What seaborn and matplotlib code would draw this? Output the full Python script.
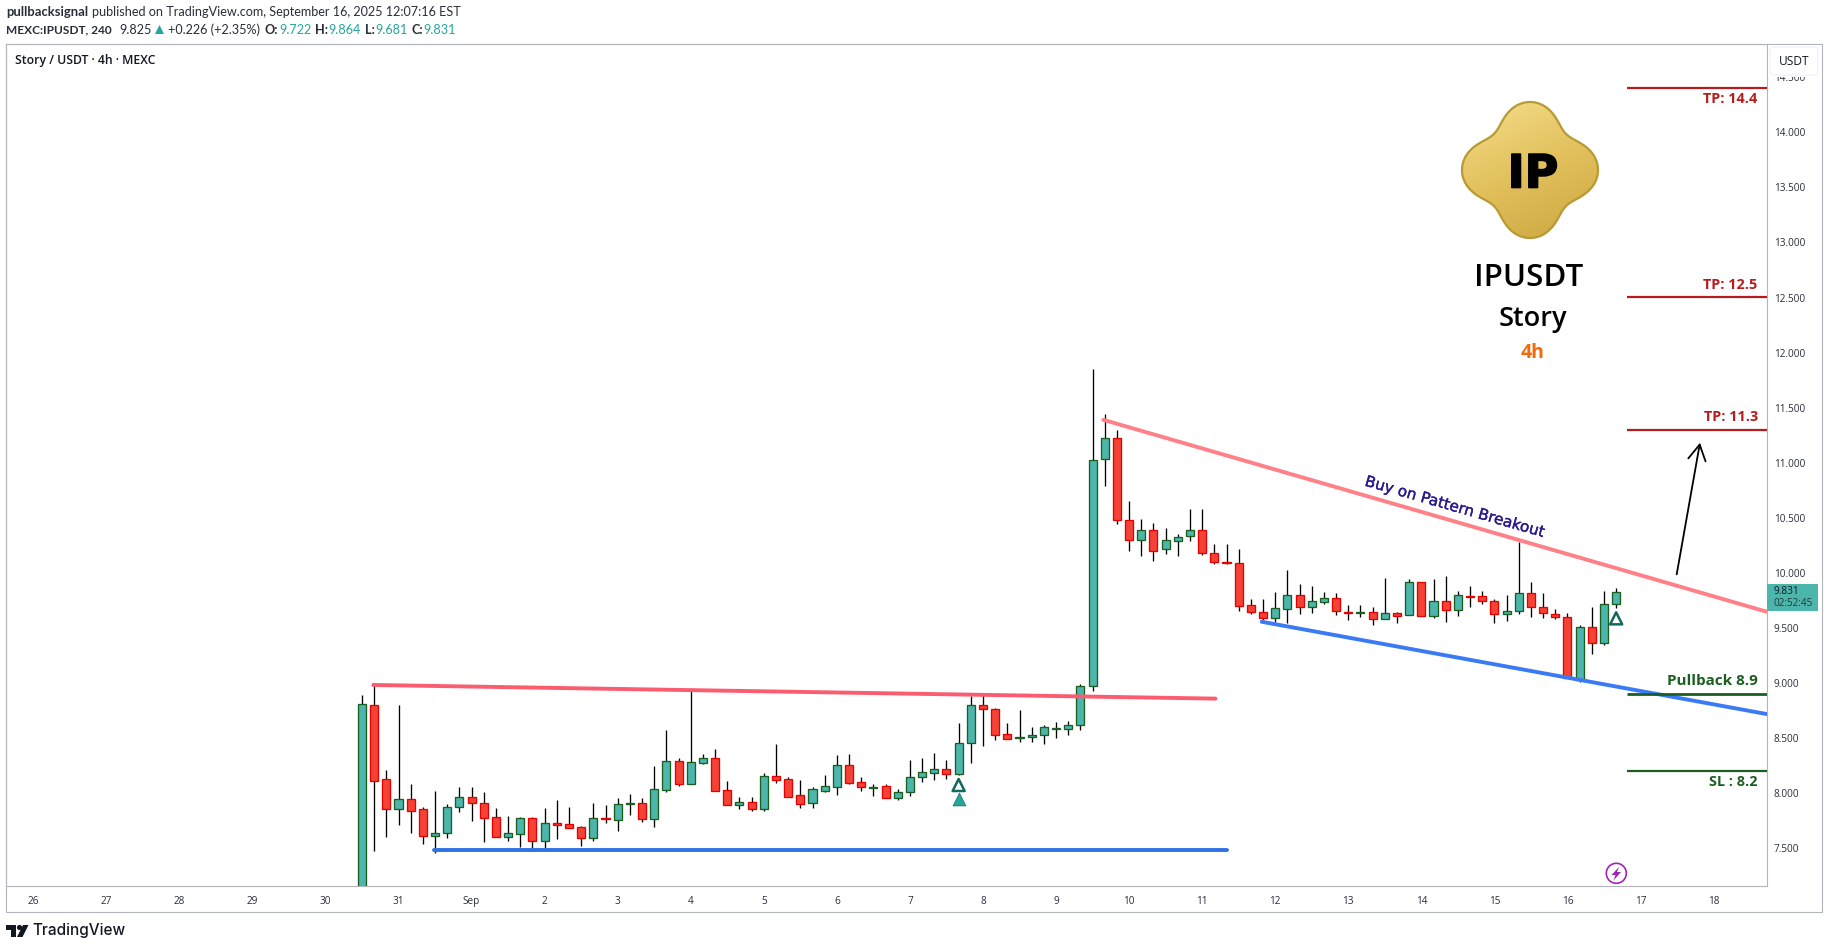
import numpy as np
import pandas as pd
import matplotlib
matplotlib.use('Agg')
import matplotlib.pyplot as plt
import matplotlib.patheffects as pe
import seaborn as sns
from matplotlib.colors import LinearSegmentedColormap
from matplotlib.patches import Rectangle, Circle, Polygon, PathPatch, FancyBboxPatch
from matplotlib.path import Path

# 4h candles, first one is Aug 30 12:00
opens = [6.90, 8.798, 8.126, 7.860, 7.945, 7.854, 7.615, 7.636, 7.872, 7.963, 7.909, 7.781, 7.606, 7.633, 7.772,
         7.570, 7.730, 7.718, 7.691, 7.597, 7.772, 7.760, 7.906, 7.909, 7.769, 8.033, 8.290, 8.087, 8.278, 8.317,
         8.027, 7.896, 7.917, 7.860, 8.154, 8.126, 7.981, 7.915, 8.024, 8.060, 8.253, 8.099, 8.048, 8.063, 7.954,
         8.009, 8.145, 8.187, 8.217, 8.178, 8.453, 8.798, 8.762, 8.535, 8.499, 8.508, 8.526, 8.587, 8.580, 8.617,
         8.971, 11.031, 11.222, 10.477, 10.302, 10.387, 10.214, 10.287, 10.332, 10.387, 10.178, 10.096, 10.087,
         9.706, 9.642, 9.588, 9.669, 9.797, 9.688, 9.733, 9.769, 9.642, 9.636, 9.642, 9.579, 9.633, 9.615, 9.915,
         9.606, 9.742, 9.660, 9.788, 9.788, 9.742, 9.630, 9.651, 9.815, 9.688, 9.624, 9.597, 9.028, 9.506, 9.367,
         9.722]
highs = [8.892, 8.998, 8.211, 8.801, 8.084, 7.875, 8.020, 7.902, 8.057, 8.057, 8.011, 7.866, 7.794, 7.784, 7.784,
         7.866, 7.939, 7.875, 7.703, 7.912, 7.893, 7.957, 7.993, 7.957, 8.247, 8.574, 8.317, 8.947, 8.356, 8.402,
         8.111, 7.966, 7.966, 8.184, 8.447, 8.148, 8.120, 8.057, 8.166, 8.347, 8.356, 8.148, 8.084, 8.084, 8.039,
         8.302, 8.320, 8.366, 8.302, 8.638, 8.883, 8.892, 8.771, 8.638, 8.756, 8.602, 8.620, 8.647, 8.656, 8.992,
         11.851, 11.443, 11.297, 10.650, 10.490, 10.453, 10.408, 10.353, 10.580, 10.580, 10.263, 10.263, 10.217,
         9.763, 9.763, 9.827, 10.027, 9.899, 9.881, 9.827, 9.818, 9.709, 9.709, 9.691, 9.954, 9.645, 9.942, 9.915,
         9.945, 9.972, 9.836, 9.881, 9.836, 9.763, 9.800, 10.281, 9.918, 9.818, 9.672, 9.636, 9.524, 9.691, 9.836,
         9.864]
lows = [6.80, 7.479, 7.606, 7.715, 7.642, 7.542, 7.461, 7.597, 7.830, 7.751, 7.558, 7.606, 7.567, 7.515, 7.503,
        7.494, 7.585, 7.688, 7.521, 7.567, 7.730, 7.657, 7.803, 7.739, 7.694, 8.014, 8.066, 8.087, 8.266, 8.024,
        7.896, 7.857, 7.842, 7.842, 8.096, 7.969, 7.866, 7.866, 8.014, 7.984, 8.084, 8.024, 7.975, 7.954, 7.939,
        7.978, 8.102, 8.120, 8.129, 8.166, 8.278, 8.429, 8.484, 8.490, 8.468, 8.468, 8.450, 8.505, 8.532, 8.577,
        8.928, 10.789, 10.447, 10.202, 10.157, 10.111, 10.175, 10.157, 10.293, 10.166, 10.078, 10.078, 9.657,
        9.630, 9.573, 9.558, 9.542, 9.630, 9.639, 9.721, 9.621, 9.573, 9.603, 9.527, 9.579, 9.548, 9.615, 9.606,
        9.591, 9.557, 9.612, 9.694, 9.721, 9.548, 9.567, 9.630, 9.603, 9.594, 9.585, 9.043, 9.013, 9.264, 9.346,
        9.681]
closes = [8.807, 8.114, 7.860, 7.945, 7.842, 7.615, 7.636, 7.872, 7.963, 7.915, 7.778, 7.606, 7.636, 7.772, 7.570,
          7.727, 7.712, 7.688, 7.597, 7.772, 7.768, 7.900, 7.909, 7.769, 8.036, 8.290, 8.087, 8.281, 8.317, 8.024,
          7.896, 7.917, 7.860, 8.154, 8.123, 7.969, 7.905, 8.036, 8.063, 8.253, 8.096, 8.054, 8.060, 7.954, 8.009,
          8.145, 8.190, 8.217, 8.178, 8.453, 8.798, 8.762, 8.532, 8.490, 8.508, 8.526, 8.599, 8.590, 8.617, 8.971,
          11.022, 11.222, 10.483, 10.302, 10.387, 10.202, 10.296, 10.323, 10.387, 10.178, 10.096, 10.090, 9.703,
          9.642, 9.594, 9.678, 9.797, 9.688, 9.742, 9.769, 9.651, 9.636, 9.642, 9.579, 9.633, 9.606, 9.915, 9.606,
          9.742, 9.660, 9.797, 9.782, 9.742, 9.630, 9.651, 9.815, 9.688, 9.633, 9.597, 9.043, 9.506, 9.367, 9.715,
          9.831]

# x is measured in days from Aug 26
first_candle_day = 4.5
day_labels = ['26', '27', '28', '29', '30', '31', 'Sep', '2', '3', '4', '5', '6', '7', '8', '9', '10', '11',
              '12', '13', '14', '15', '16', '17', '18']
price_ticks = [7.5, 8.0, 8.5, 9.0, 9.5, 10.0, 10.5, 11.0, 11.5, 12.0, 12.5, 13.0, 13.5, 14.0, 14.5]

# drawn trend lines: (day, price)
resistance_days, resistance_prices = [4.655, 16.183], [8.983, 8.859]
support_days, support_prices = [5.49, 16.34], [7.482, 7.482]
wedge_top_days, wedge_top_prices = [14.647, 23.727], [11.39, 9.648]
wedge_bottom_days, wedge_bottom_prices = [16.815, 23.727], [9.557, 8.719]

# target levels
level_days = [21.82, 23.727]
tp_levels = [14.405, 12.505, 11.30]
pullback_level = 8.898
sl_level = 8.205

W, H = 1829, 949
LEFT, RIGHT, TOP, BOTTOM = 6, 1766.7, 44, 886

sns.set_style('white')
plt.rcParams['font.family'] = ['Open Sans', 'DejaVu Sans']

fig = plt.figure(figsize=(W / 100, H / 100), dpi=100, facecolor='white')
ax = fig.add_axes([LEFT / W, 1 - BOTTOM / H, (RIGHT - LEFT) / W, (BOTTOM - TOP) / H])

df = pd.DataFrame({'open': opens, 'high': highs, 'low': lows, 'close': closes})
df['day'] = first_candle_day + df.index / 6
df['up'] = df['close'] >= df['open']

# Candles: wicks first, then bodies on top
up_fill, up_edge = '#4db6ac', '#1b5e20'
down_fill, down_edge = '#f44336', '#e60000'
ax.vlines(df['day'], df['low'], df['high'], color='black', lw=0.95, zorder=2)
ax.bar(df['day'], (df['close'] - df['open']).abs(), bottom=df[['open', 'close']].min(axis=1), width=0.11,
       color=np.where(df['up'], up_fill, down_fill), edgecolor=np.where(df['up'], up_edge, down_edge),
       linewidth=0.95, zorder=3)

# Trend lines
for days, prices, color in [(resistance_days, resistance_prices, '#fa5c70'),
                            (support_days, support_prices, '#2f72e8'),
                            (wedge_top_days, wedge_top_prices, '#ff8087'),
                            (wedge_bottom_days, wedge_bottom_prices, '#3a7bf5')]:
    sns.lineplot(x=days, y=prices, color=color, lw=2.8, sort=False, errorbar=None, legend=False, ax=ax, zorder=4,
                 solid_capstyle='round')

# Target levels
for level in tp_levels:
    ax.hlines(level, level_days[0], level_days[1], color='#b71c1c', lw=1.6, zorder=4)
ax.hlines(pullback_level, level_days[0], level_days[1], color='#1b5e20', lw=2.0, zorder=4)
ax.hlines(sl_level, level_days[0], level_days[1], color='#1b5e20', lw=1.6, zorder=4)

# Signal triangles under the candles
sns.scatterplot(x=[df['day'][49], df['day'][103]], y=[8.075, 9.588], marker='^', s=75, facecolor='none',
                edgecolor='#14695f', linewidth=1.8, legend=False, ax=ax, zorder=5)
sns.scatterplot(x=[df['day'][49]], y=[7.948], marker='^', s=85, color='#26a69a', edgecolor='#14695f', linewidth=0.5,
                legend=False, ax=ax, zorder=5)

# Breakout arrow
ax.annotate('', xy=(22.814, 11.182), xytext=(22.495, 9.987),
            arrowprops=dict(arrowstyle='->,head_length=0.8,head_width=0.45', color='black', lw=1.3,
                            shrinkA=0, shrinkB=0, mutation_scale=14), zorder=5)

ax.set_xlim((LEFT - 33.2) / 73.06, (RIGHT - 33.2) / 73.06)
ax.set_ylim(7.158, 14.802)
ax.set_xticks(range(len(day_labels)))
ax.set_xticklabels(day_labels)
ax.set_yticks(price_ticks)
ax.set_yticklabels([f'{p:.3f}' for p in price_ticks])
ax.yaxis.tick_right()
ax.tick_params(axis='x', length=0, pad=7, labelsize=7.2, labelcolor='#2a2e39')
ax.tick_params(axis='y', length=0, pad=5, labelsize=7.2, labelcolor='#2a2e39')
ax.set_xlabel('')
ax.set_ylabel('')
for spine in ax.spines.values():
    spine.set_color('#b2b5be')
    spine.set_linewidth(0.8)

# Overlay in pixel coordinates for the annotations and chrome around the chart
ov = fig.add_axes([0, 0, 1, 1], zorder=10)
ov.set_axis_off()
ov.patch.set_alpha(0)

ov.add_patch(Rectangle((LEFT, TOP), 1822 - LEFT, 912 - TOP, fill=False, ec='#b2b5be', lw=0.8))

# USDT button over the clipped 14.500 label
ov.add_patch(Rectangle((1768, 45), 52, 31.5, fc='white', ec='none'))
ov.add_patch(FancyBboxPatch((1772, 49), 44, 24, boxstyle='round,pad=2,rounding_size=3', fc='white', ec='#f0f3fa', lw=1))
ov.text(1794, 61, 'USDT', fontsize=8.6, color='#131722', ha='center', va='center')

# Last price tag
ov.add_patch(Rectangle((1767.3, 584.3), 51, 26.4, fc='#4db6ac', ec='none'))
ov.text(1774, 591.7, '9.831', fontsize=7.2, color='#131722', va='center')
ov.text(1774, 603.7, '02:52:45', fontsize=7.2, color='#1f3d3a', va='center')

# Level labels
tp_red = '#b71c1c'
for y, label in [(99.3, 'TP: 14.4'), (285, 'TP: 12.5'), (417, 'TP: 11.3')]:
    ov.text(1757.7, y, label, fontsize=10.4, fontweight='bold', color=tp_red, ha='right', va='center')
ov.text(1757.7, 681, 'Pullback 8.9', fontsize=11, fontweight='bold', color='#1b5e20', ha='right', va='center')
ov.text(1757.7, 782.5, 'SL : 8.2', fontsize=10.4, fontweight='bold', color='#1b5e20', ha='right', va='center')
ov.text(1455, 507, 'Buy on Pattern Breakout', family='DejaVu Sans', fontsize=11, color='#2a1a8e', rotation=-16.1,
        rotation_mode='anchor', ha='center', va='center',
        path_effects=[pe.withStroke(linewidth=0.25, foreground='#2a1a8e')])

# Coin logo
theta = np.linspace(0, 2 * np.pi, 400)
radius = 60 + 8.5 * np.cos(4 * theta) - 0.5 * np.cos(8 * theta)
logo_x, logo_y = 1530 + radius * np.cos(theta), 170 + radius * np.sin(theta)
logo = Path(np.column_stack([logo_x, logo_y]), closed=True)
shade = np.linspace(0, 1, 140)[:, None] * 0.7 + np.linspace(0, 1, 140)[None, :] * 0.3
cmap = LinearSegmentedColormap.from_list('gold', ['#f6df8c', '#e2c05c', '#cba63e'])
img = ov.imshow(shade, cmap=cmap, extent=(1460, 1600, 240, 100), aspect='auto', zorder=1)
rim = PathPatch(logo, fc='none', ec='#b89a34', lw=1.6, zorder=2)
ov.add_patch(rim)
img.set_clip_path(rim)
ov.text(1533, 170, 'IP', family='DejaVu Sans', fontsize=33, fontweight='bold', color='black', ha='center',
        va='center_baseline', zorder=3, path_effects=[pe.withStroke(linewidth=1.2, foreground='black')])

ov.text(1528.5, 278, 'IPUSDT', fontsize=22.5, fontweight='semibold', color='black', ha='center', va='center')
ov.text(1533, 319, 'Story', fontsize=19.5, fontweight='semibold', color='black', ha='center', va='center')
ov.text(1533, 352.5, '4h', fontsize=14, fontweight='bold', color='#f26a0a', ha='center', va='center')

# Lightning badge near the last candle
ov.add_patch(Circle((1616.3, 873.3), 10, fill=False, ec='#9c27b0', lw=1.2))
ov.add_patch(Polygon([(1619, 867), (1611.5, 875), (1615.5, 875), (1613.5, 880.5), (1621, 872), (1617, 872)],
                     fc='#9c27b0', ec='none'))

# Header
header_size = 9.1
ov.text(6, 12.3, 'pullbacksignal', family='Lato', fontsize=9.4, fontweight='bold', color='#2a2e39', va='center')
ov.text(91.7, 12.3, 'published on TradingView.com, September 16, 2025 12:07:16 EST', family='Lato',
        fontsize=header_size, color='#2a2e39', va='center')
teal = '#26a69a'
ov.text(6, 29.7, 'MEXC:IPUSDT, 240', family='Lato', fontsize=8.6, fontweight='bold', color='#2a2e39', va='center')
ov.text(119.3, 29.7, '9.825', family='Lato', fontsize=header_size, color='#2a2e39', va='center')
ov.add_patch(Polygon([(155, 34), (164, 34), (159.5, 25)], fc=teal, ec='none'))
ov.text(168.3, 29.7, '+0.226 (+2.35%)', family='Lato', fontsize=header_size, color='#2a2e39', va='center')
for x_name, name, x_val, val in [(264.3, 'O:', 279.3, '9.722'), (315, 'H:', 328.3, '9.864'),
                                 (365, 'L:', 375.7, '9.681'), (411, 'C:', 423.3, '9.831')]:
    ov.text(x_name, 29.7, name, family='Lato', fontsize=header_size, fontweight='bold', color='#2a2e39', va='center')
    ov.text(x_val, 29.7, val, family='Lato', fontsize=header_size, color=teal, va='center')
ov.text(15, 60.7, 'Story / USDT · 4h · MEXC', fontsize=8.8, fontweight='semibold', color='#131722', va='center')

# TradingView mark
ov.add_patch(Polygon([(6, 925), (16, 925), (16, 937), (11, 937), (11, 930), (6, 930)], fc='#131722', ec='none'))
ov.add_patch(Circle((19.5, 927.5), 2.6, fc='#131722', ec='none'))
ov.add_patch(Polygon([(17, 937), (23, 925), (28.5, 925), (22.5, 937)], fc='#131722', ec='none'))
ov.text(32, 931, 'TradingView', family='Inter', fontsize=11, fontweight='medium', color='#131722', va='center')

ov.set_xlim(0, W)
ov.set_ylim(H, 0)

fig.savefig('out.png', dpi=100)
